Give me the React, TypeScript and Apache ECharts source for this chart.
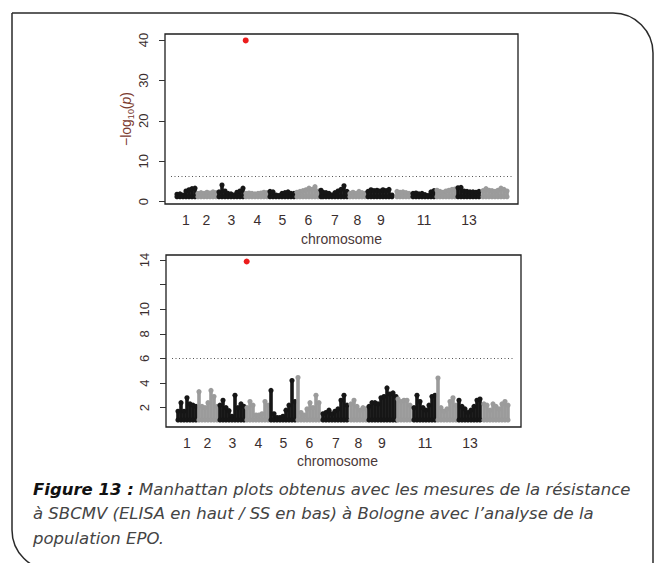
import React, { useEffect, useRef } from "react";
import * as echarts from "echarts";

// chromosome boundaries (genome position units) and labels
const chrBounds = [11, 31, 52, 81, 104, 131, 156, 184, 201, 231, 247, 271, 291, 317, 344];
const chrShown = [1, 2, 3, 4, 5, 6, 7, 8, 9, 11, 13];

// ELISA (top) — column positions and upper envelope of -log10(p)
const elisaPos = [12, 15, 18, 21, 24, 27, 30, 33, 36, 39, 42, 45, 48, 51, 54, 57, 60, 63, 66, 69, 72, 75, 78, 81, 84, 87, 90, 93, 96, 99, 102, 105, 108, 111, 114, 117, 120, 123, 126, 129, 132, 135, 138, 141, 144, 147, 150, 153, 156, 158, 161, 164, 167, 170, 173, 176, 179, 182, 185, 188, 191, 194, 197, 200, 203, 206, 209, 212, 215, 218, 221, 224, 227, 232, 235, 238, 241, 244, 248, 251, 254, 257, 260, 263, 266, 269, 272, 275, 278, 281, 284, 287, 290, 293, 296, 299, 302, 305, 308, 311, 314, 318, 321, 324, 327, 330, 333, 336, 339, 342];
const elisaTop = [1.8, 1.9, 1.6, 2.6, 2.9, 3.2, 3.3, 2.0, 2.2, 2.0, 2.3, 2.1, 2.4, 2.2, 2.4, 4.1, 2.6, 2.0, 1.9, 1.6, 2.3, 2.6, 3.3, 2.0, 2.1, 2.0, 1.9, 2.0, 2.1, 2.3, 2.2, 2.5, 2.4, 1.6, 1.5, 2.0, 2.2, 2.4, 2.0, 2.0, 2.3, 2.5, 2.7, 2.9, 3.3, 3.0, 3.7, 2.6, 2.8, 2.3, 2.2, 2.0, 1.6, 2.2, 2.6, 3.0, 3.9, 2.5, 2.0, 2.3, 2.0, 2.5, 2.2, 2.0, 2.5, 2.9, 2.7, 2.8, 2.6, 2.9, 2.7, 3.0, 1.6, 2.5, 2.3, 2.4, 2.2, 2.0, 2.0, 2.1, 1.9, 2.0, 1.7, 1.5, 2.4, 2.7, 2.8, 2.5, 2.3, 2.6, 2.8, 3.0, 3.1, 3.4, 3.5, 2.6, 2.5, 2.4, 2.4, 2.3, 2.5, 2.7, 3.2, 2.8, 2.7, 2.5, 2.8, 3.3, 3.0, 2.6];
const elisaBase = 1.2;
const elisaHit = [[80.7, 39.9]];
const elisaThreshold = 6.2;
const elisaTicks = [0, 10, 20, 30, 40];

// SS (bottom)
const ssPos = [12, 15, 18, 21, 24, 27, 30, 33, 36, 39, 42, 45, 48, 51, 54, 57, 60, 63, 66, 69, 72, 75, 78, 81, 84, 87, 90, 93, 96, 99, 102, 105, 108, 111, 114, 117, 120, 123, 126, 129, 132, 135, 138, 141, 144, 147, 150, 153, 157, 160, 163, 166, 169, 172, 175, 178, 181, 185, 188, 191, 194, 197, 200, 203, 206, 209, 212, 215, 218, 221, 224, 227, 230, 232, 235, 238, 241, 244, 248, 251, 254, 257, 260, 263, 266, 269, 272, 275, 278, 281, 284, 287, 290, 293, 296, 299, 302, 305, 308, 311, 314, 318, 321, 324, 327, 330, 333, 336, 339, 342];
const ssTop = [1.7, 2.4, 1.7, 2.8, 2.3, 2.2, 2.1, 3.3, 2.1, 2.0, 2.4, 3.4, 2.9, 2.1, 2.2, 2.6, 2.0, 1.75, 1.3, 3.0, 2.0, 2.3, 2.1, 2.0, 2.5, 2.2, 1.4, 1.4, 1.5, 2.5, 2.2, 3.4, 1.5, 1.2, 1.2, 1.3, 1.8, 2.2, 4.2, 2.5, 4.45, 1.6, 1.4, 1.9, 2.4, 2.0, 3.0, 2.4, 1.5, 1.6, 1.8, 1.5, 1.7, 1.9, 2.6, 3.0, 2.2, 2.3, 2.6, 2.1, 1.8, 2.0, 1.9, 2.1, 2.4, 2.4, 2.3, 2.8, 2.9, 3.6, 3.1, 3.2, 2.9, 2.7, 2.5, 2.6, 2.6, 2.2, 2.0, 3.0, 2.5, 2.0, 1.8, 2.2, 2.9, 3.0, 4.4, 2.0, 1.7, 1.9, 2.5, 2.8, 2.2, 2.6, 2.1, 1.9, 1.6, 1.8, 2.1, 2.6, 2.7, 2.3, 2.2, 1.8, 2.3, 2.1, 1.9, 2.3, 2.5, 2.2];
const ssBase = 1.0;
const ssHit = [[80.7, 13.87]];
const ssThreshold = 6.05;
const ssTicks = [2, 4, 6, 8, 10, 12, 14];
const ssTickLabels = [2, 4, 6, 8, 10, 14];

const captionLines = [
  "Manhattan plots obtenus avec les mesures de la résistance",
  "à SBCMV (ELISA en haut / SS en bas) à Bologne avec l’analyse de la",
  "population EPO.",
];

const BLACK = "#161616";
const GREY = "#9b9b9b";
const TXT = "#3a2e2e";
const CAP_FONT = "DejaVu Sans";
const CAP_SIZE = 16.5;

function chrOf(p: number): number {
  for (let i = 1; i < chrBounds.length; i++) if (p < chrBounds[i]) return i;
  return chrBounds.length - 1;
}
const chrMid = (c: number) => (chrBounds[c - 1] + chrBounds[c]) / 2;

function columns(pos: number[], top: number[]) {
  return pos.map((p, i) => [p, top[i], chrOf(p)]);
}

function makeRender(base: number) {
  return (params: any, api: any) => {
    const x = api.value(0);
    const top = api.value(1);
    const chr = api.value(2);
    const color = chr % 2 === 1 ? BLACK : GREY;
    const p0 = api.coord([x, base]);
    const p1 = api.coord([x, top]);
    const w = 3.6;
    const r = 2.6;
    return {
      type: "group",
      children: [
        { type: "rect", shape: { x: p1[0] - w / 2, y: p1[1], width: w, height: p0[1] - p1[1] }, style: { fill: color } },
        { type: "circle", shape: { cx: p1[0], cy: p1[1], r }, style: { fill: color } },
        { type: "circle", shape: { cx: p0[0], cy: p0[1], r }, style: { fill: color } },
      ],
    };
  };
}

export default function App() {
  const ref = useRef<HTMLDivElement>(null);
  useEffect(() => {
    if (!ref.current) return;
    const chart = echarts.init(ref.current, null, { renderer: "svg" });
    const mids = chrShown.map((c) => chrMid(c));
    const xLabelFmt = (v: number) => {
      const i = mids.findIndex((m) => Math.abs(m - v) < 0.01);
      return i >= 0 ? String(chrShown[i]) : "";
    };
    const xAxisBase = (gridIndex: number, max: number, gap: number, pad: number[]) => ({
      gridIndex,
      type: "value",
      min: 0,
      max,
      axisLine: { show: false },
      axisTick: { show: false },
      splitLine: { show: false },
      axisLabel: {
        customValues: mids,
        formatter: xLabelFmt,
        margin: 9,
        fontSize: 14,
        color: TXT,
        fontFamily: "Liberation Sans",
      },
      name: "chromosome",
      nameLocation: "middle",
      nameGap: gap,
      nameMoveOverlap: false,
      nameTextStyle: { fontSize: 14, color: "#4a3838", fontFamily: "Liberation Sans", padding: pad },
    });
    const thresholdLine = (th: number) => ({
      symbol: "none",
      silent: true,
      label: { show: false },
      lineStyle: { type: [1, 2.5], color: "#555", width: 1 },
      data: [[{ coord: [6, th] }, { coord: [349, th] }]],
    });
    const option: any = {
      animation: false,
      grid: [
        { left: 165, top: 34, width: 353, height: 170, show: true, borderColor: "#1e1e1e", borderWidth: 1.3 },
        { left: 166, top: 255, width: 355, height: 172, show: true, borderColor: "#1e1e1e", borderWidth: 1.3 },
      ],
      xAxis: [xAxisBase(0, 353, 28, [0, 0, 0, 0]), xAxisBase(1, 355, 27, [0, 12, 0, 0])],
      yAxis: [
        {
          gridIndex: 0,
          type: "value",
          min: -0.6,
          max: 41.5,
          axisLine: { show: false },
          splitLine: { show: false },
          axisTick: { show: true, customValues: elisaTicks, length: 6, lineStyle: { color: "#333" } },
          axisLabel: { customValues: elisaTicks, rotate: 90, margin: 15, fontSize: 13, color: TXT, fontFamily: "Liberation Sans" },
          name: "−log{s|10}({i|p})",
          nameLocation: "middle",
          nameGap: 30,
          nameMoveOverlap: false,
          nameTextStyle: {
            fontSize: 14,
            color: "#7a3a2e",
            fontFamily: "Liberation Sans",
            rich: {
              s: { fontSize: 9, color: "#7a3a2e", verticalAlign: "bottom", lineHeight: 18, fontFamily: "Liberation Sans" },
              i: { fontSize: 14, color: "#7a3a2e", fontStyle: "italic", fontFamily: "Liberation Sans" },
            },
          },
        },
        {
          gridIndex: 1,
          type: "value",
          min: 0.43,
          max: 14.4,
          axisLine: { show: false },
          splitLine: { show: false },
          axisTick: { show: true, customValues: ssTicks, length: 6, lineStyle: { color: "#333" } },
          axisLabel: { customValues: ssTickLabels, rotate: 90, margin: 15, fontSize: 13, color: TXT, fontFamily: "Liberation Sans" },
        },
      ],
      series: [
        {
          type: "custom",
          xAxisIndex: 0,
          yAxisIndex: 0,
          renderItem: makeRender(elisaBase),
          data: columns(elisaPos, elisaTop),
          silent: true,
        },
        {
          type: "scatter",
          xAxisIndex: 0,
          yAxisIndex: 0,
          data: elisaHit,
          symbolSize: 6,
          itemStyle: { color: "#ec1c1c", opacity: 1 },
          markLine: thresholdLine(elisaThreshold),
          silent: true,
        },
        {
          type: "custom",
          xAxisIndex: 1,
          yAxisIndex: 1,
          renderItem: makeRender(ssBase),
          data: columns(ssPos, ssTop),
          silent: true,
        },
        {
          type: "scatter",
          xAxisIndex: 1,
          yAxisIndex: 1,
          data: ssHit,
          symbolSize: 6,
          itemStyle: { color: "#ec1c1c", opacity: 1 },
          markLine: thresholdLine(ssThreshold),
          silent: true,
        },
      ],
      graphic: [
        {
          type: "rect",
          silent: true,
          shape: { x: 12, y: 13, width: 641, height: 557, r: [0, 40, 0, 40] },
          style: { fill: "none", stroke: "#2a2a2a", lineWidth: 1.5 },
        },
        {
          type: "text",
          x: 33,
          y: 489,
          style: {
            text: "{b|Figure 13 :} " + captionLines[0],
            fontFamily: CAP_FONT,
            fontStyle: "italic",
            fontSize: CAP_SIZE,
            fill: "#444",
            verticalAlign: "middle",
            rich: {
              b: { fontFamily: CAP_FONT, fontStyle: "italic", fontWeight: "bold", fontSize: CAP_SIZE, fill: "#111" },
            },
          },
        },
        {
          type: "text",
          x: 33,
          y: 513.5,
          style: { text: captionLines[1], fontFamily: CAP_FONT, fontStyle: "italic", fontSize: CAP_SIZE, fill: "#444", verticalAlign: "middle" },
        },
        {
          type: "text",
          x: 33,
          y: 538,
          style: { text: captionLines[2], fontFamily: CAP_FONT, fontStyle: "italic", fontSize: CAP_SIZE, fill: "#444", verticalAlign: "middle" },
        },
      ],
    };
    chart.setOption(option);
    return () => chart.dispose();
  }, []);
  return <div ref={ref} style={{ position: "fixed", left: 0, top: 0, width: 660, height: 563, background: "#fff" }} />;
}
